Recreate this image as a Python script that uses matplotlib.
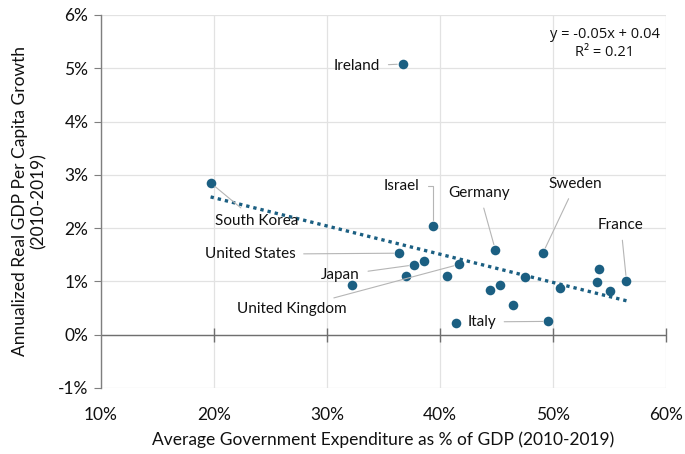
import numpy as np
import matplotlib.pyplot as plt
from matplotlib.ticker import FuncFormatter

plt.rcParams['font.family'] = ['Lato', 'DejaVu Sans']

# average government expenditure, % of GDP (2010-2019)
gov_spend = [19.7, 36.7, 39.4, 36.4, 37.7, 38.6, 37.0, 32.2, 40.6, 41.7, 41.4, 44.9,
             44.4, 45.3, 46.5, 47.5, 49.1, 50.6, 49.6, 54.1, 53.9, 55.0, 56.5]
# annualized real GDP per capita growth, % (2010-2019)
growth = [2.85, 5.08, 2.04, 1.53, 1.31, 1.38, 1.10, 0.93, 1.10, 1.32, 0.22, 1.59,
          0.84, 0.93, 0.56, 1.08, 1.53, 0.88, 0.25, 1.23, 0.99, 0.82, 1.01]
names = ["South Korea", "Ireland", "Israel", "United States", "Japan", "", "", "", "",
         "United Kingdom", "", "Germany", "", "", "", "", "Sweden", "", "Italy", "", "", "", "France"]
x_ticks = [10, 20, 30, 40, 50, 60]
y_ticks = [-1, 0, 1, 2, 3, 4, 5, 6]

# where each country label sits (data coords) and how it's aligned
label_pos = {
    "Ireland": (34.7, 5.04, 'right'),
    "Israel": (38.2, 2.79, 'right'),
    "Germany": (43.5, 2.66, 'center'),
    "Sweden": (52.0, 2.83, 'center'),
    "France": (56.0, 2.06, 'center'),
    "South Korea": (23.8, 2.13, 'center'),
    "United States": (27.2, 1.51, 'right'),
    "Japan": (32.9, 1.12, 'right'),
    "United Kingdom": (26.9, 0.48, 'center'),
    "Italy": (42.4, 0.24, 'left'),
}

dot_color = '#1b5f82'
axis_gray = '#6f6f6f'
x = np.array(gov_spend)
y = np.array(growth)

fig = plt.figure(figsize=(6.85, 4.54), dpi=100)
ax = fig.add_axes([0.1474, 0.1454, 0.8249, 0.8216])

ax.set_xlim(10, 60)
ax.set_ylim(-1, 6)
ax.set_xticks(x_ticks)
ax.set_yticks(y_ticks)
ax.xaxis.set_major_formatter(FuncFormatter(lambda v, p: f"{v:.0f}%"))
ax.yaxis.set_major_formatter(FuncFormatter(lambda v, p: f"{v:.0f}%"))
ax.grid(True, color='#e2e2e2', lw=0.9)
ax.set_axisbelow(True)

for s in ['top', 'right', 'bottom']:
    ax.spines[s].set_visible(False)
ax.spines['left'].set_color('#7f7f7f')
ax.spines['left'].set_linewidth(1.0)
ax.tick_params(axis='y', length=5, color='#7f7f7f', labelsize=12.5, pad=4, labelcolor='#111111')
ax.tick_params(axis='x', length=0, labelsize=12.5, pad=14, labelcolor='#111111')

# zero line with the x tick marks crossing it
ax.axhline(0, color=axis_gray, lw=1.0, zorder=1)
ax.plot(x_ticks[1:], np.zeros(len(x_ticks) - 1), ls='none', marker='|', ms=10,
        mew=1.0, color=axis_gray, zorder=1, clip_on=False)

# linear trend
m, b = np.polyfit(x / 100, y / 100, 1)
r2 = np.corrcoef(x, y)[0, 1] ** 2
xs = np.array([x.min(), x.max()])
ax.plot(xs, (m * xs / 100 + b) * 100, ls=(0, (1, 1.2)), lw=2.4, color=dot_color, zorder=2)

ax.scatter(x, y, s=48, color=dot_color, zorder=3, linewidths=0)

for name, xv, yv in zip(names, gov_spend, growth):
    if not name:
        continue
    tx, ty, ha = label_pos[name]
    conn = "angle,angleA=0,angleB=90,rad=0" if name == "Israel" else "arc3"
    ax.annotate(name, xy=(xv, yv), xytext=(tx, ty), ha=ha, va='center', fontsize=11,
                color='#111111',
                arrowprops=dict(arrowstyle='-', color='#b5b5b5', lw=0.8,
                                shrinkA=4, shrinkB=4, connectionstyle=conn))

sign = '-' if m < 0 else ''
ax.text(54.6, 5.46, f"y = {sign}{abs(m):.2f}x + {b:.2f}\nR\u00b2 = {r2:.2f}",
        ha='center', va='center', multialignment='center', fontsize=10.5,
        family=['Open Sans', 'DejaVu Sans'], color='#111111', linespacing=1.3)

ax.set_xlabel("Average Government Expenditure as % of GDP (2010-2019)", fontsize=12.5,
              color='#111111', labelpad=6)
ax.set_ylabel("Annualized Real GDP Per Capita Growth\n(2010-2019)", fontsize=12.5,
              color='#111111', labelpad=8)

fig.savefig("out.png", dpi=100)
